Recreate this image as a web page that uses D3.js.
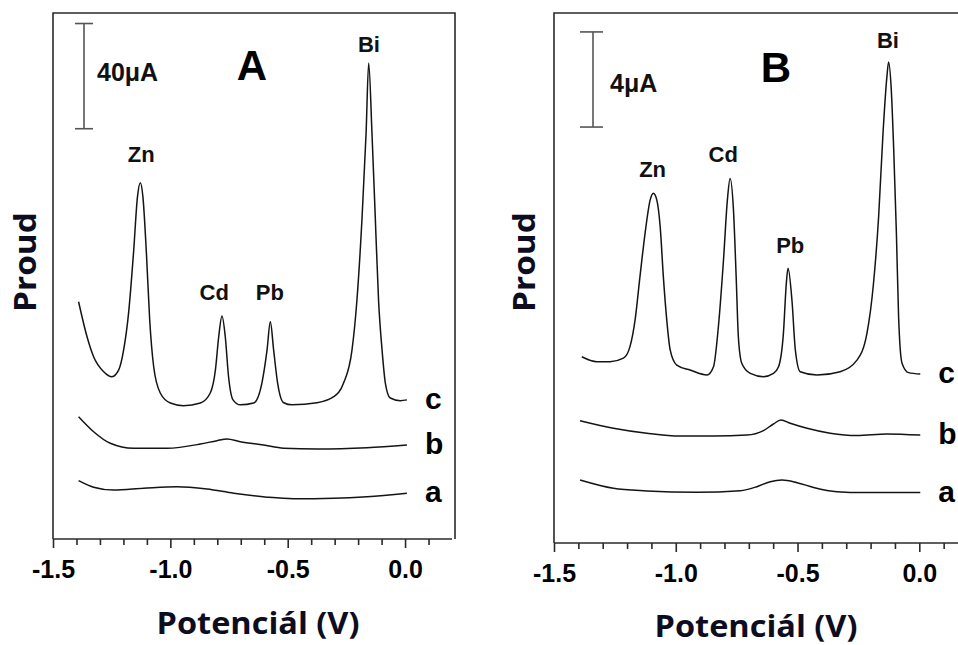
<!DOCTYPE html>
<html>
<head>
<meta charset="utf-8">
<script src="https://cdn.jsdelivr.net/npm/d3@7"></script>
<style>
  body { margin: 0; background: #fff; }
  svg { display: block; }
</style>
</head>
<body>
<div id="chart"></div>
<script>
// potential (V) / current (uA)
var tickLabels = ['-1.5', '-1.0', '-0.5', '0.0'];
var majorTicks = [-1.5, -1.0, -0.5, 0.0];
var minorTicks = [-1.4, -1.3, -1.2, -1.1, -0.9, -0.8, -0.7, -0.6, -0.4, -0.3, -0.2, -0.1, 0.1];
var seriesNames = ['a', 'b', 'c'];
var peakNames = ['Zn', 'Cd', 'Pb', 'Bi'];

// panel A
var curveA_a = [[-1.391, 22.2], [-1.327, 19.7], [-1.242, 18.6], [-1.114, 19.3], [-0.972, 19.9], [-0.844, 19.0],
    [-0.730, 17.4], [-0.588, 15.9], [-0.475, 15.3], [-0.304, 15.5], [-0.162, 16.1], [0.008, 17.4]];
var curveA_b = [[-1.391, 46.5], [-1.327, 40.8], [-1.256, 36.4], [-1.157, 34.5], [-1.014, 34.5], [-0.872, 36.1],
    [-0.801, 37.4], [-0.759, 38.0], [-0.702, 37.0], [-0.603, 35.7], [-0.517, 34.5], [-0.375, 34.2], [-0.162, 34.7], [0.008, 35.7]];
var curveA_c = [[-1.391, 90.2], [-1.355, 76.9], [-1.327, 69.3], [-1.284, 63.6], [-1.249, 61.7], [-1.220, 64.3],
    [-1.199, 71.9], [-1.178, 85.9], [-1.157, 108.7], [-1.140, 130.2], [-1.128, 135.5], [-1.117, 130.2], [-1.102, 108.7],
    [-1.088, 83.3], [-1.071, 65.5], [-1.043, 55.5], [-1.000, 51.7], [-0.944, 50.7], [-0.872, 51.7], [-0.830, 55.5],
    [-0.808, 64.3], [-0.794, 76.9], [-0.780, 84.8], [-0.766, 76.9], [-0.752, 61.7], [-0.733, 52.9], [-0.702, 51.0],
    [-0.645, 51.7], [-0.610, 59.3], [-0.588, 71.9], [-0.574, 82.6], [-0.560, 71.9], [-0.543, 59.3], [-0.517, 51.8],
    [-0.482, 51.0], [-0.375, 51.8], [-0.304, 54.1], [-0.262, 59.3], [-0.226, 71.9], [-0.205, 90.9], [-0.183, 122.5],
    [-0.166, 154.4], [-0.155, 181.0], [-0.141, 154.4], [-0.127, 122.5], [-0.113, 90.9], [-0.098, 71.9], [-0.084, 59.3],
    [-0.063, 53.6], [-0.020, 52.6], [0.008, 52.9]];
var peakLabelsA = [[-1.124, 143.3], [-0.813, 90.9], [-0.576, 90.9], [-0.154, 185.2]];

// panel B
var curveB_a = [[-1.393, 2.66], [-1.256, 2.31], [-1.119, 2.20], [-0.914, 2.14], [-0.735, 2.21], [-0.667, 2.38],
    [-0.612, 2.59], [-0.564, 2.66], [-0.502, 2.55], [-0.434, 2.35], [-0.338, 2.17], [-0.229, 2.13], [0.004, 2.13]];
var curveB_b = [[-1.393, 5.17], [-1.256, 4.85], [-1.119, 4.64], [-0.982, 4.52], [-0.845, 4.52], [-0.708, 4.56],
    [-0.640, 4.75], [-0.599, 5.03], [-0.568, 5.20], [-0.530, 5.06], [-0.461, 4.85], [-0.366, 4.64], [-0.256, 4.54],
    [-0.133, 4.61], [0.004, 4.56]];
var curveB_c = [[-1.386, 7.87], [-1.324, 7.66], [-1.270, 7.66], [-1.215, 7.81], [-1.188, 8.30], [-1.167, 9.43],
    [-1.147, 11.26], [-1.126, 13.09], [-1.105, 14.50], [-1.092, 14.78], [-1.078, 14.50], [-1.064, 13.37], [-1.051, 11.26],
    [-1.037, 9.43], [-1.023, 8.16], [-0.996, 7.52], [-0.941, 7.31], [-0.872, 7.10], [-0.845, 7.45], [-0.825, 9.14],
    [-0.804, 11.96], [-0.788, 14.50], [-0.777, 15.41], [-0.763, 14.07], [-0.752, 11.26], [-0.743, 8.72], [-0.729, 7.60],
    [-0.694, 7.17], [-0.640, 7.03], [-0.599, 7.17], [-0.578, 7.45], [-0.558, 8.86], [-0.546, 10.98], [-0.539, 11.61],
    [-0.523, 10.27], [-0.509, 8.16], [-0.489, 7.24], [-0.420, 7.10], [-0.325, 7.24], [-0.256, 7.73], [-0.215, 8.86],
    [-0.188, 10.98], [-0.167, 13.79], [-0.149, 17.32], [-0.133, 19.71], [-0.126, 20.33], [-0.115, 19.15], [-0.105, 16.61],
    [-0.094, 13.09], [-0.085, 9.56], [-0.071, 7.60], [-0.044, 7.20], [0.004, 7.14]];
var peakLabelsB = [[-1.095, 15.47], [-0.805, 16.10], [-0.530, 12.26], [-0.129, 20.92]];

var INK = '#141414';
var TITLE_INK = '#0d0d1f';

function drawPanel(svg, cfg) {
    var x = d3.scaleLinear().domain([-1.5, 0.2]).range([cfg.left, cfg.right]);
    var y = d3.scaleLinear().domain([0, cfg.yMax]).range([cfg.bottom, cfg.top]);
    var g = svg.append('g');

    // frame
    g.append('path')
        .attr('d', 'M' + cfg.left + ',' + cfg.bottom + 'V' + cfg.top + 'H' + cfg.frameRight + 'V' + cfg.bottom)
        .attr('fill', 'none')
        .attr('stroke', '#2a2a2a')
        .attr('stroke-width', 1.6);

    // bottom axis: minor ticks, then major ticks with labels
    g.append('g')
        .attr('transform', 'translate(0,' + cfg.bottom + ')')
        .call(d3.axisBottom(x).tickValues(minorTicks).tickSize(6).tickFormat(''))
        .call(function(a){ a.select('.domain').remove(); });

    var major = g.append('g')
        .attr('transform', 'translate(0,' + cfg.bottom + ')')
        .call(d3.axisBottom(x).tickValues(majorTicks).tickSize(9).tickPadding(24)
            .tickFormat(function(d, i){ return tickLabels[i]; }));
    major.select('.domain').attr('d', 'M' + cfg.left + ',0H' + cfg.right);
    g.selectAll('.tick line').attr('stroke', '#2a2a2a').attr('stroke-width', 1.6);
    g.selectAll('.domain').attr('stroke', '#2a2a2a').attr('stroke-width', 1.6);
    major.selectAll('.tick text')
        .attr('fill', '#000')
        .attr('dy', '0.22em')
        .style('font-family', '"Liberation Sans", Arial, sans-serif')
        .style('font-weight', 'bold')
        .style('font-size', '25px');

    // curves
    var line = d3.line()
        .x(function(d){ return x(d[0]); })
        .y(function(d){ return y(d[1]); })
        .curve(d3.curveMonotoneX);

    cfg.curves.forEach(function(c, i) {
        g.append('path')
            .datum(c)
            .attr('fill', 'none')
            .attr('stroke', INK)
            .attr('stroke-width', 1.5)
            .attr('stroke-linejoin', 'round')
            .attr('d', line);
        var last = c[c.length - 1];
        g.append('text')
            .attr('x', x(last[0]) + 18)
            .attr('y', y(last[1]) + 9)
            .attr('fill', '#000')
            .style('font-family', '"Liberation Sans", Arial, sans-serif')
            .style('font-weight', 'bold')
            .style('font-size', '30px')
            .text(seriesNames[i]);
    });

    // peak labels
    cfg.peaks.forEach(function(p, i) {
        g.append('text')
            .attr('x', x(p[0]))
            .attr('y', y(p[1]))
            .attr('text-anchor', 'middle')
            .attr('fill', '#111')
            .style('font-family', '"Liberation Sans", Arial, sans-serif')
            .style('font-weight', 'bold')
            .style('font-size', '22px')
            .text(peakNames[i]);
    });

    // current scale bar
    var bx = cfg.barX, y0 = y(cfg.bar[0]), y1 = y(cfg.bar[1]);
    var bar = g.append('g').attr('stroke', '#555').attr('stroke-width', 1.6);
    bar.append('line').attr('x1', bx).attr('x2', bx).attr('y1', y0).attr('y2', y1);
    bar.append('line').attr('x1', bx - cfg.capL).attr('x2', bx + cfg.capR).attr('y1', y0).attr('y2', y0);
    bar.append('line').attr('x1', bx - cfg.capL).attr('x2', bx + cfg.capR).attr('y1', y1).attr('y2', y1);
    g.append('text')
        .attr('x', cfg.barText[0])
        .attr('y', cfg.barText[1])
        .attr('fill', '#111')
        .style('font-family', '"Liberation Sans", Arial, sans-serif')
        .style('font-weight', 'bold')
        .style('font-size', '25px')
        .text(cfg.barLabel);

    // panel letter
    g.append('text')
        .attr('x', cfg.letter[0])
        .attr('y', cfg.letter[1])
        .attr('text-anchor', 'middle')
        .attr('fill', '#000')
        .style('font-family', '"Liberation Sans", Arial, sans-serif')
        .style('font-weight', 'bold')
        .style('font-size', '42px')
        .text(cfg.letterText);

    // axis titles
    g.append('text')
        .attr('x', cfg.xTitle[0])
        .attr('y', cfg.xTitle[1])
        .attr('text-anchor', 'middle')
        .attr('fill', TITLE_INK)
        .attr('textLength', 203)
        .attr('lengthAdjust', 'spacingAndGlyphs')
        .style('font-family', '"Open Sans", sans-serif')
        .style('font-weight', 'bold')
        .style('font-size', '30px')
        .text('Potenciál (V)');

    g.append('text')
        .attr('transform', 'translate(' + cfg.yTitle[0] + ',' + cfg.yTitle[1] + ') rotate(-90)')
        .attr('text-anchor', 'middle')
        .attr('fill', TITLE_INK)
        .attr('textLength', 100)
        .attr('lengthAdjust', 'spacingAndGlyphs')
        .style('font-family', '"Open Sans", sans-serif')
        .style('font-weight', 'bold')
        .style('font-size', '31px')
        .text('Proud');
}

var svg = d3.select('#chart').append('svg')
    .attr('width', 958)
    .attr('height', 645);

drawPanel(svg, {
    left: 53, right: 452, frameRight: 455, top: 13, bottom: 539, yMax: 200,
    curves: [curveA_a, curveA_b, curveA_c],
    peaks: peakLabelsA,
    bar: [156, 196], barX: 84, capL: 9, capR: 9, barLabel: '40μA', barText: [97, 81],
    letter: [252, 80], letterText: 'A',
    xTitle: [258, 634], yTitle: [36, 262]
});

drawPanel(svg, {
    left: 554, right: 968, frameRight: 990, top: 13, bottom: 543, yMax: 22.4,
    curves: [curveB_a, curveB_b, curveB_c],
    peaks: peakLabelsB,
    bar: [17.58, 21.6], barX: 593, capL: 13, capR: 10, barLabel: '4μA', barText: [610, 92],
    letter: [776, 82], letterText: 'B',
    xTitle: [756, 637], yTitle: [535, 262]
});
</script>
</body>
</html>
